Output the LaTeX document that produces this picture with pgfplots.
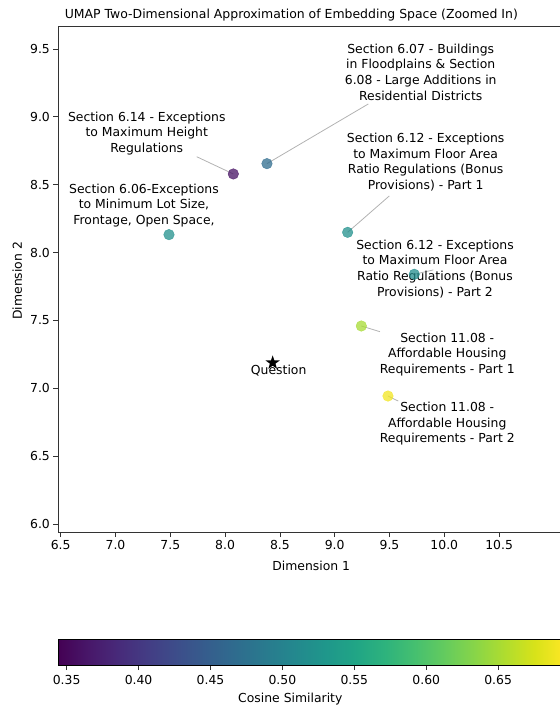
\documentclass[border=0pt]{standalone}
\usepackage{fontspec}
\setmainfont{DejaVu Sans}
\usepackage{pgfplots}
\pgfplotsset{compat=1.18}
\usetikzlibrary{shapes.geometric}
\pgfplotsset{/pgf/number format/assume math mode=true}
\newcommand{\fs}{\fontsize{12.4bp}{15.6bp}\selectfont}
\newcommand{\ts}{\fontsize{12.45bp}{14bp}\selectfont}
\pgfdeclareplotmark{bstar}{\node[star, star points=5, star point ratio=2.6, fill=black, draw=none, inner sep=0pt, minimum size=15bp] {};}

\pgfplotstableread{
x y c
8.075 8.579 0.360
8.382 8.655 0.467
7.488 8.132 0.520
9.118 8.149 0.520
9.726 7.840 0.515
9.243 7.459 0.650
9.486 6.943 0.690
}\sections

\pgfplotstableread{
x y
8.434 7.188
}\question

\begin{document}
\begin{tikzpicture}
\begin{axis}[
  at={(58.3bp,-532.3bp)}, anchor=south west,
  scale only axis, width=506bp, height=505.6bp,
  xmin=6.478, xmax=11.095, ymin=5.939, ymax=9.664,
  xtick={6.5,7.0,...,10.5}, ytick={6.0,6.5,...,9.5},
  xticklabel style={/pgf/number format/.cd, fixed, fixed zerofill, precision=1},
  yticklabel style={/pgf/number format/.cd, fixed, fixed zerofill, precision=1},
  tick label style={font=\fs, text=black},
  tick align=outside, major tick length=4.9bp,
  xtick pos=left, ytick pos=left,
  axis line style={black!80, line width=0.8pt},
  tick style={black!80, line width=0.8pt},
  colormap/viridis,
  point meta min=0.3442, point meta max=0.6960,
  colorbar horizontal,
  colorbar/width=25.7bp,
  colorbar style={
    at={(parent axis.south west)}, anchor=north west, yshift=-98.7bp,
    scale only axis, width=506bp,
    xtick={0.35,0.40,...,0.65},
    xticklabel style={/pgf/number format/.cd, fixed, fixed zerofill, precision=2},
    tick label style={font=\fs, text=black, yshift=-2bp},
    tick align=outside, major tick length=4.9bp,
    xtick pos=left,
    axis line style={black, line width=0.8pt},
    tick style={black!80, line width=0.8pt},
  },
  clip=false,
]
% leader lines
\draw[black!30, line width=0.8pt] (axis cs:9.307,9.095) -- (axis cs:8.382,8.655);
\draw[black!30, line width=0.8pt] (axis cs:7.741,8.706) -- (axis cs:8.075,8.579);
\draw[black!30, line width=0.8pt] (axis cs:9.498,8.417) -- (axis cs:9.118,8.149);
\draw[black!30, line width=0.8pt] (axis cs:9.900,7.872) -- (axis cs:9.726,7.840);
\draw[black!30, line width=0.8pt] (axis cs:9.413,7.417) -- (axis cs:9.243,7.459);
\draw[black!30, line width=0.8pt] (axis cs:9.580,6.906) -- (axis cs:9.486,6.943);

\addplot[scatter, only marks, mark=*, mark size=5.3bp,
  point meta=explicit,
  scatter/use mapped color={draw=mapped color, fill=mapped color},
  opacity=0.75]
  table[x=x, y=y, meta=c] {\sections};

\addplot[only marks, mark=bstar, black] table[x=x, y=y] {\question};

\begin{scope}[every node/.style={font=\fs, align=center, text=black}]
\node at (axis cs:9.785,9.33) {Section 6.07 - Buildings\\in Floodplains \& Section\\6.08 - Large Additions in\\Residential Districts};
\node at (axis cs:7.285,8.879) {Section 6.14 - Exceptions\\to Maximum Height\\Regulations};
\node at (axis cs:9.83,8.665) {Section 6.12 - Exceptions\\to Maximum Floor Area\\Ratio Regulations (Bonus\\Provisions) - Part 1};
\node at (axis cs:7.26,8.348) {Section 6.06-Exceptions\\to Minimum Lot Size,\\Frontage, Open Space,};
\node at (axis cs:9.915,7.881) {Section 6.12 - Exceptions\\to Maximum Floor Area\\Ratio Regulations (Bonus\\Provisions) - Part 2};
\node at (axis cs:10.027,7.249) {Section 11.08 -\\Affordable Housing\\Requirements - Part 1};
\node at (axis cs:10.027,6.738) {Section 11.08 -\\Affordable Housing\\Requirements - Part 2};
\node at (axis cs:8.489,7.128) {Question};
\end{scope}
\end{axis}
\node[font=\ts] at (291.3bp,-15bp) {UMAP Two-Dimensional Approximation of Embedding Space (Zoomed In)};
\node[font=\fs] at (311.2bp,-566bp) {Dimension 1};
\node[font=\fs, rotate=90] at (17.3bp,-280.8bp) {Dimension 2};
\node[font=\fs] at (290.3bp,-699bp) {Cosine Similarity};
\pgfresetboundingbox
\useasboundingbox (0,0) rectangle (560bp,-709bp);
\end{tikzpicture}
\end{document}
